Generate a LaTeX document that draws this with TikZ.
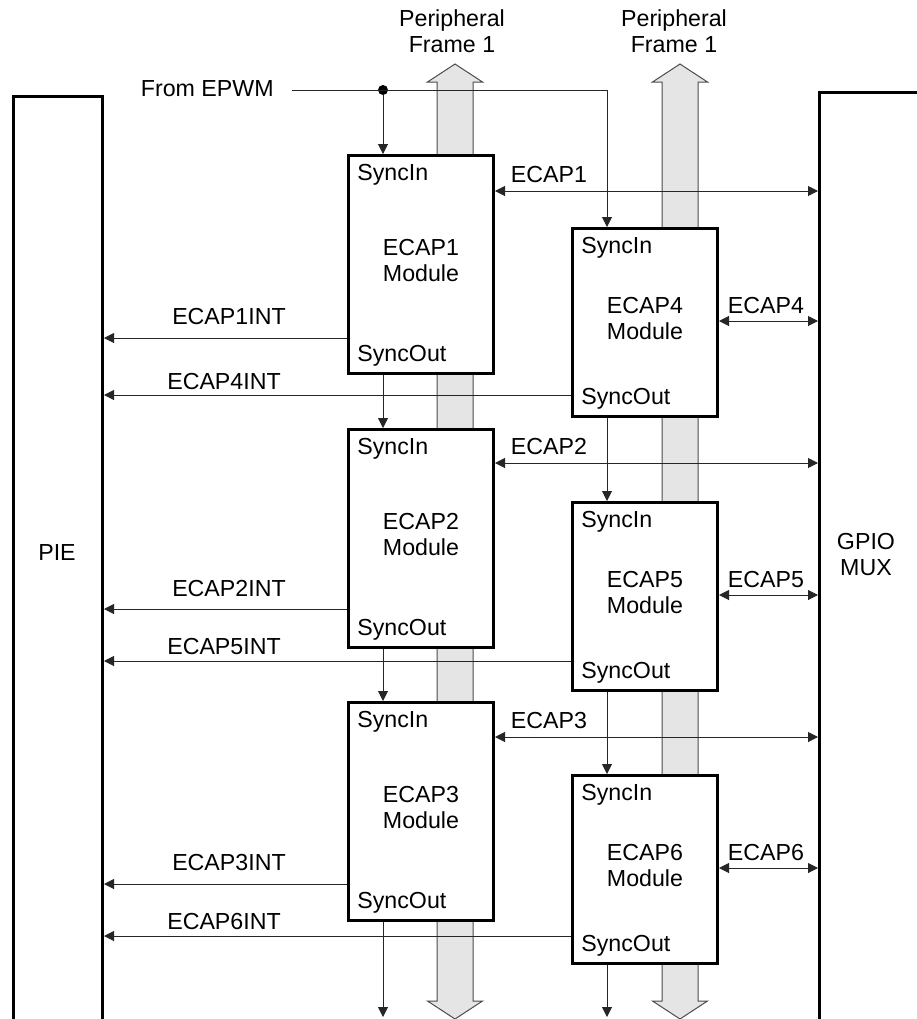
\documentclass[tikz,border=0pt]{standalone}
\usepackage{fontspec}
\setmainfont{Liberation Sans}
\usetikzlibrary{arrows.meta}
\begin{document}
\begin{tikzpicture}[x=0.5pt,y=-0.5pt,
  txt/.style={font=\fontsize{11.6}{13}\selectfont, inner sep=0pt, align=center},
  modbox/.style={draw, line width=1.5pt, fill=white, inner sep=0pt, anchor=north west, minimum width=72.5pt},
  lmod/.style={modbox, minimum height=109pt},
  rmod/.style={modbox, minimum height=94pt},
  wire/.style={line width=0.5pt, draw=black!85},
  arr/.style={wire, -{Triangle[length=5pt,width=5pt]}},
  darr/.style={wire, {Triangle[length=5pt,width=5pt]}-{Triangle[length=5pt,width=5pt]}},
  bus/.style={draw=black!70, line width=0.5pt, fill=black!10},
  frame/.style={draw, line width=1.5pt, inner sep=0pt, anchor=north west, minimum height=480pt},
]
\useasboundingbox (0,0) rectangle (917,1019);
\clip (0,0) rectangle (917,1019);
\fill[white] (0,0) rectangle (917,1019);

% peripheral frame buses
\foreach \c in {455,680} {
  \draw[bus] (\c,64) -- (\c+27.5,82) -- (\c+18,82) -- (\c+18,1001) -- (\c+27.5,1001)
    -- (\c,1019) -- (\c-27.5,1001) -- (\c-18,1001) -- (\c-18,82) -- (\c-27.5,82) -- cycle;
}
\node[txt] (pf1) at (452,31) {Peripheral\\Frame 1};
\node[txt] (pf2) at (674,31) {Peripheral\\Frame 1};

% PIE and GPIO MUX
\node[frame, minimum width=44.5pt] (pie) at (12,95) {};
\node[frame, minimum width=60pt] (gpio) at (818,91) {};
\node[txt] (pielbl) at (57,553) {PIE};
\node[txt] (gpiolbl) at (866,555) {GPIO\\MUX};

% modules
\foreach \n/\x/\y/\s in {1/347/154/lmod, 2/347/428/lmod, 3/347/701/lmod,
                         4/571/227/rmod, 5/571/501/rmod, 6/571/774/rmod} {
  \node[\s] (e\n) at (\x,\y) {};
  \node[txt] (e\n t) at ([yshift=2pt]e\n.center) {ECAP\n\\Module};
  \node[txt, anchor=west] (e\n i) at ([xshift=5pt,yshift=-10.5pt]e\n.north west) {SyncIn};
  \node[txt, anchor=west] (e\n o) at ([xshift=5pt,yshift=9.5pt]e\n.south west) {SyncOut};
}

% sync input from EPWM
\node[txt, anchor=east] (epwm) at (274,89) {From EPWM};
\node[circle, fill, inner sep=0pt, minimum size=5pt] (dot) at (383,90) {};
\coordinate (corner) at (607,90);
\draw[wire] ([xshift=9pt]epwm.east |- dot) -- (corner);
\draw[arr] (dot) -- (e1.north -| dot);
\draw[arr] (corner) -- (e4.north -| corner);

% sync chains
\coordinate (sxl) at (383,0);
\coordinate (sxr) at (607,0);
\coordinate (botl) at (383,1017);
\coordinate (botr) at (607,1017);
\draw[arr] (e1.south -| sxl) -- (e2.north -| sxl);
\draw[arr] (e2.south -| sxl) -- (e3.north -| sxl);
\draw[arr] (e3.south -| sxl) -- (botl);
\draw[arr] (e4.south -| sxr) -- (e5.north -| sxr);
\draw[arr] (e5.south -| sxr) -- (e6.north -| sxr);
\draw[arr] (e6.south -| sxr) -- (botr);

% module I/O to GPIO MUX
\foreach \n/\yy/\lx/\ly in {1/191/549/175, 2/463/549/447, 3/737/549/721,
                            4/321/766/306, 5/595/766/580, 6/868/766/853} {
  \coordinate (io\n) at (0,\yy);
  \draw[darr] (e\n.east |- io\n) -- (gpio.west |- io\n);
  \node[txt] (iol\n) at (\lx,\ly) {ECAP\n};
}

% interrupts to PIE
\foreach \n/\yy/\lx/\ly in {1/338/229/317, 2/609/229/589, 3/884/229/863,
                            4/395/224/382, 5/661/224/647, 6/936/224/922} {
  \coordinate (int\n) at (0,\yy);
  \draw[arr] (e\n.west |- int\n) -- (pie.east |- int\n);
  \node[txt] (intl\n) at (\lx,\ly) {ECAP\n INT};
}
\end{tikzpicture}
\end{document}
